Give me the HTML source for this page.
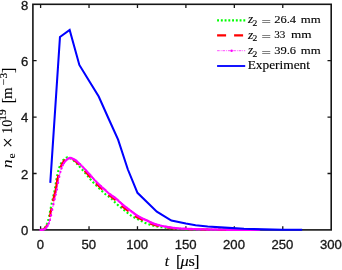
<!DOCTYPE html>
<html><head><meta charset="utf-8"><title>plot</title>
<style>html,body{margin:0;padding:0;background:#fff;overflow:hidden}svg{display:block;filter:blur(0.3px)}</style></head>
<body>
<svg width="342" height="270" viewBox="0 0 342 270">
<rect width="342" height="270" fill="#fff"/>
<rect x="32.9" y="4.3" width="298.3" height="225.6" fill="none" stroke="#161616" stroke-width="1.6"/>
<path d="M40.60,229.9 v-3.7 M40.60,4.3 v3.7 M89.03,229.9 v-3.7 M89.03,4.3 v3.7 M137.47,229.9 v-3.7 M137.47,4.3 v3.7 M185.90,229.9 v-3.7 M185.90,4.3 v3.7 M234.33,229.9 v-3.7 M234.33,4.3 v3.7 M282.77,229.9 v-3.7 M282.77,4.3 v3.7 M32.9,173.50 h3.7 M331.2,173.50 h-3.7 M32.9,117.10 h3.7 M331.2,117.10 h-3.7 M32.9,60.70 h3.7 M331.2,60.70 h-3.7" stroke="#161616" stroke-width="1.3" fill="none"/>
<clipPath id="c"><rect x="32.9" y="4.3" width="298.3" height="226.9"/></clipPath>
<g clip-path="url(#c)" fill="none" stroke-linejoin="round">
<path d="M40.60,229.85 L41.26,229.79 L41.91,229.66 L42.57,229.41 L43.22,229.09 L43.88,228.63 L44.53,227.96 L45.19,227.10 L45.84,226.07 L46.50,224.91 L47.15,223.36 L47.81,221.35 L48.47,219.04 L49.12,216.23 L49.78,212.89 L50.43,209.62 L51.09,206.36 L51.74,203.17 L52.40,200.20 L53.05,197.38 L53.71,194.55 L54.37,191.55 L55.02,188.18 L55.68,184.21 L56.33,180.19 L56.99,176.70 L57.64,173.57 L58.30,170.92 L58.95,168.68 L59.61,166.68 L60.26,164.97 L60.92,163.61 L61.58,162.44 L62.23,161.40 L62.89,160.51 L63.54,159.78 L64.20,159.20 L64.85,158.67 L65.51,158.18 L66.16,157.78 L66.82,157.51 L67.48,157.41 L68.13,157.48 L68.79,157.66 L69.44,157.91 L70.10,158.22 L70.75,158.55 L71.41,158.89 L72.06,159.29 L72.72,159.77 L73.37,160.32 L74.03,160.92 L74.69,161.55 L75.34,162.20 L76.00,162.86 L76.65,163.50 L77.31,164.16 L77.96,164.86 L78.62,165.57 L79.27,166.31 L79.93,167.05 L80.58,167.79 L81.24,168.53 L81.90,169.27 L82.55,170.01 L83.21,170.76 L83.86,171.51 L84.52,172.27 L85.17,173.03 L85.83,173.80 L86.48,174.58 L87.14,175.38 L87.80,176.18 L88.45,176.98 L89.11,177.77 L89.76,178.55 L90.42,179.31 L91.07,180.05 L91.73,180.77 L92.38,181.48 L93.04,182.17 L93.69,182.86 L94.35,183.54 L95.01,184.22 L95.66,184.88 L96.32,185.54 L96.97,186.20 L97.63,186.84 L98.28,187.49 L98.94,188.12 L99.59,188.76 L100.25,189.39 L100.90,190.01 L101.56,190.64 L102.22,191.26 L102.87,191.88 L103.53,192.50 L104.18,193.10 L104.84,193.68 L105.49,194.24 L106.15,194.77 L106.80,195.26 L107.46,195.73 L108.12,196.18 L108.77,196.63 L109.43,197.09 L110.08,197.58 L110.74,198.11 L111.39,198.68 L112.05,199.30 L112.70,199.95 L113.36,200.62 L114.01,201.30 L114.67,201.98 L115.33,202.66 L115.98,203.31 L116.64,203.94 L117.29,204.52 L117.95,205.10 L118.60,205.65 L119.26,206.20 L119.91,206.74 L120.57,207.27 L121.23,207.79 L121.88,208.31 L122.54,208.83 L123.19,209.35 L123.85,209.87 L124.50,210.39 L125.16,210.93 L125.81,211.47 L126.47,212.02 L127.12,212.56 L127.78,213.10 L128.44,213.63 L129.09,214.15 L129.75,214.64 L130.40,215.12 L131.06,215.56 L131.71,215.98 L132.37,216.37 L133.02,216.76 L133.68,217.12 L134.33,217.48 L134.99,217.83 L135.65,218.17 L136.30,218.50 L136.96,218.82 L137.61,219.15 L138.27,219.47 L138.92,219.80 L139.58,220.12 L140.23,220.46 L140.89,220.79 L141.55,221.13 L142.20,221.46 L142.86,221.79 L143.51,222.12 L144.17,222.44 L144.82,222.75 L145.48,223.04 L146.13,223.32 L146.79,223.59 L147.44,223.83 L148.10,224.07 L148.76,224.29 L149.41,224.51 L150.07,224.72 L150.72,224.93 L151.38,225.12 L152.03,225.31 L152.69,225.49 L153.34,225.66 L154.00,225.82 L154.66,225.97 L155.31,226.12 L155.97,226.26 L156.62,226.40 L157.28,226.53 L157.93,226.65 L158.59,226.77 L159.24,226.89 L159.90,227.00 L160.55,227.11 L161.21,227.22 L161.87,227.32 L162.52,227.42 L163.18,227.52 L163.83,227.63 L164.49,227.73 L165.14,227.83 L165.80,227.92 L166.45,228.01 L167.11,228.10 L167.76,228.17 L168.42,228.24 L169.08,228.31 L169.73,228.36 L170.39,228.41 L171.04,228.45 L171.70,228.50 L172.35,228.54 L173.01,228.58 L173.66,228.62 L174.32,228.66 L174.98,228.70 L175.63,228.73 L176.29,228.76 L176.94,228.80 L177.60,228.83 L178.25,228.86 L178.91,228.88 L179.56,228.91 L180.22,228.94 L180.87,228.96 L181.53,228.99 L182.19,229.01 L182.84,229.04 L183.50,229.06 L184.15,229.08 L184.81,229.11 L185.46,229.13 L186.12,229.15 L186.77,229.17 L187.43,229.19 L188.08,229.21 L188.74,229.23 L189.40,229.25 L190.05,229.27 L190.71,229.29 L191.36,229.31 L192.02,229.32 L192.67,229.34 L193.33,229.35 L193.98,229.37 L194.64,229.38 L195.30,229.40 L195.95,229.41 L196.61,229.42 L197.26,229.44 L197.92,229.45 L198.57,229.46 L199.23,229.47 L199.88,229.48 L200.54,229.49 L201.19,229.50 L201.85,229.51 L202.51,229.52 L203.16,229.53 L203.82,229.54 L204.47,229.55 L205.13,229.56 L205.78,229.57 L206.44,229.57 L207.09,229.58 L207.75,229.59 L208.41,229.60 L209.06,229.61 L209.72,229.62 L210.37,229.62 L211.03,229.63 L211.68,229.64 L212.34,229.65 L212.99,229.65 L213.65,229.66 L214.30,229.67 L214.96,229.67 L215.62,229.68 L216.27,229.68 L216.93,229.69 L217.58,229.69 L218.24,229.70 L218.89,229.70 L219.55,229.71 L220.20,229.71 L220.86,229.72 L221.51,229.72 L222.17,229.72 L222.83,229.73 L223.48,229.73 L224.14,229.73 L224.79,229.74 L225.45,229.74 L226.10,229.74 L226.76,229.75 L227.41,229.75 L228.07,229.75 L228.73,229.76 L229.38,229.76 L230.04,229.76 L230.69,229.76 L231.35,229.77 L232.00,229.77 L232.66,229.77 L233.31,229.78 L233.97,229.78 L234.62,229.78 L235.28,229.78 L235.94,229.79 L236.59,229.79 L237.25,229.79 L237.90,229.79 L238.56,229.80 L239.21,229.80 L239.87,229.80 L240.52,229.80 L241.18,229.81 L241.84,229.81 L242.49,229.81 L243.15,229.81 L243.80,229.82 L244.46,229.82 L245.11,229.82 L245.77,229.82 L246.42,229.83 L247.08,229.83 L247.73,229.83 L248.39,229.83 L249.05,229.83 L249.70,229.84 L250.36,229.84 L251.01,229.84 L251.67,229.84 L252.32,229.84 L252.98,229.85 L253.63,229.85 L254.29,229.85 L254.94,229.85 L255.60,229.85" stroke="#00ff00" stroke-width="2.1" stroke-dasharray="2 2.15"/>
<path d="M40.60,229.88 L41.26,229.84 L41.91,229.78 L42.57,229.63 L43.22,229.38 L43.88,229.06 L44.53,228.60 L45.19,227.94 L45.84,227.11 L46.50,226.12 L47.15,225.00 L47.81,223.53 L48.47,221.63 L49.12,219.43 L49.78,216.82 L50.43,213.63 L51.09,210.43 L51.74,207.29 L52.40,204.17 L53.05,201.24 L53.71,198.48 L54.37,195.77 L55.02,192.95 L55.68,189.87 L56.33,186.27 L56.99,182.31 L57.64,178.65 L58.30,175.48 L58.95,172.62 L59.61,170.28 L60.26,168.20 L60.92,166.36 L61.58,164.82 L62.23,163.58 L62.89,162.49 L63.54,161.52 L64.20,160.69 L64.85,160.01 L65.51,159.47 L66.16,158.96 L66.82,158.49 L67.48,158.11 L68.13,157.86 L68.79,157.77 L69.44,157.84 L70.10,158.01 L70.75,158.25 L71.41,158.54 L72.06,158.86 L72.72,159.19 L73.37,159.56 L74.03,160.01 L74.69,160.52 L75.34,161.09 L76.00,161.69 L76.65,162.32 L77.31,162.96 L77.96,163.58 L78.62,164.21 L79.27,164.87 L79.93,165.55 L80.58,166.25 L81.24,166.97 L81.90,167.69 L82.55,168.40 L83.21,169.11 L83.86,169.83 L84.52,170.55 L85.17,171.27 L85.83,172.00 L86.48,172.74 L87.14,173.47 L87.80,174.22 L88.45,174.98 L89.11,175.75 L89.76,176.52 L90.42,177.30 L91.07,178.06 L91.73,178.82 L92.38,179.55 L93.04,180.27 L93.69,180.96 L94.35,181.65 L95.01,182.32 L95.66,182.99 L96.32,183.65 L96.97,184.30 L97.63,184.95 L98.28,185.59 L98.94,186.22 L99.59,186.85 L100.25,187.47 L100.90,188.09 L101.56,188.70 L102.22,189.31 L102.87,189.92 L103.53,190.52 L104.18,191.13 L104.84,191.73 L105.49,192.33 L106.15,192.91 L106.80,193.49 L107.46,194.05 L108.12,194.58 L108.77,195.08 L109.43,195.55 L110.08,196.00 L110.74,196.43 L111.39,196.87 L112.05,197.32 L112.70,197.79 L113.36,198.30 L114.01,198.86 L114.67,199.46 L115.33,200.09 L115.98,200.74 L116.64,201.40 L117.29,202.06 L117.95,202.71 L118.60,203.35 L119.26,203.95 L119.91,204.53 L120.57,205.08 L121.23,205.63 L121.88,206.16 L122.54,206.68 L123.19,207.20 L123.85,207.71 L124.50,208.21 L125.16,208.71 L125.81,209.21 L126.47,209.71 L127.12,210.22 L127.78,210.73 L128.44,211.25 L129.09,211.77 L129.75,212.30 L130.40,212.83 L131.06,213.35 L131.71,213.86 L132.37,214.35 L133.02,214.83 L133.68,215.28 L134.33,215.70 L134.99,216.10 L135.65,216.48 L136.30,216.85 L136.96,217.21 L137.61,217.55 L138.27,217.88 L138.92,218.21 L139.58,218.53 L140.23,218.85 L140.89,219.16 L141.55,219.48 L142.20,219.79 L142.86,220.11 L143.51,220.42 L144.17,220.75 L144.82,221.07 L145.48,221.40 L146.13,221.72 L146.79,222.04 L147.44,222.35 L148.10,222.65 L148.76,222.94 L149.41,223.22 L150.07,223.48 L150.72,223.73 L151.38,223.96 L152.03,224.19 L152.69,224.40 L153.34,224.61 L154.00,224.81 L154.66,225.01 L155.31,225.19 L155.97,225.37 L156.62,225.54 L157.28,225.71 L157.93,225.86 L158.59,226.01 L159.24,226.15 L159.90,226.29 L160.55,226.42 L161.21,226.54 L161.87,226.66 L162.52,226.78 L163.18,226.89 L163.83,227.00 L164.49,227.11 L165.14,227.21 L165.80,227.31 L166.45,227.41 L167.11,227.51 L167.76,227.61 L168.42,227.71 L169.08,227.80 L169.73,227.90 L170.39,227.98 L171.04,228.07 L171.70,228.15 L172.35,228.22 L173.01,228.28 L173.66,228.34 L174.32,228.39 L174.98,228.43 L175.63,228.48 L176.29,228.52 L176.94,228.56 L177.60,228.60 L178.25,228.64 L178.91,228.68 L179.56,228.71 L180.22,228.74 L180.87,228.77 L181.53,228.81 L182.19,228.83 L182.84,228.86 L183.50,228.89 L184.15,228.92 L184.81,228.94 L185.46,228.97 L186.12,228.99 L186.77,229.01 L187.43,229.04 L188.08,229.06 L188.74,229.08 L189.40,229.10 L190.05,229.13 L190.71,229.15 L191.36,229.17 L192.02,229.19 L192.67,229.21 L193.33,229.23 L193.98,229.25 L194.64,229.26 L195.30,229.28 L195.95,229.30 L196.61,229.32 L197.26,229.33 L197.92,229.35 L198.57,229.36 L199.23,229.38 L199.88,229.39 L200.54,229.40 L201.19,229.42 L201.85,229.43 L202.51,229.44 L203.16,229.45 L203.82,229.46 L204.47,229.47 L205.13,229.48 L205.78,229.49 L206.44,229.50 L207.09,229.51 L207.75,229.52 L208.41,229.53 L209.06,229.54 L209.72,229.55 L210.37,229.56 L211.03,229.57 L211.68,229.57 L212.34,229.58 L212.99,229.59 L213.65,229.60 L214.30,229.61 L214.96,229.61 L215.62,229.62 L216.27,229.63 L216.93,229.64 L217.58,229.64 L218.24,229.65 L218.89,229.66 L219.55,229.66 L220.20,229.67 L220.86,229.68 L221.51,229.68 L222.17,229.69 L222.83,229.69 L223.48,229.70 L224.14,229.70 L224.79,229.71 L225.45,229.71 L226.10,229.72 L226.76,229.72 L227.41,229.72 L228.07,229.73 L228.73,229.73 L229.38,229.73 L230.04,229.74 L230.69,229.74 L231.35,229.74 L232.00,229.74 L232.66,229.75 L233.31,229.75 L233.97,229.75 L234.62,229.76 L235.28,229.76 L235.94,229.76 L236.59,229.76 L237.25,229.77 L237.90,229.77 L238.56,229.77 L239.21,229.77 L239.87,229.78 L240.52,229.78 L241.18,229.78 L241.84,229.79 L242.49,229.79 L243.15,229.79 L243.80,229.79 L244.46,229.80 L245.11,229.80 L245.77,229.80 L246.42,229.80 L247.08,229.81 L247.73,229.81 L248.39,229.81 L249.05,229.81 L249.70,229.81 L250.36,229.82 L251.01,229.82 L251.67,229.82 L252.32,229.82 L252.98,229.83 L253.63,229.83 L254.29,229.83 L254.94,229.83 L255.60,229.83" stroke="#ff0000" stroke-width="2.1" stroke-dasharray="9 8"/>
<path d="M53.05,201.24 L53.71,198.48 L54.37,195.77 L55.02,192.95 L55.68,189.87 L56.33,186.27 L56.99,182.31 L57.64,178.65" stroke="#ff0000" stroke-width="2.1"/>
<path d="M40.60,229.90 L41.26,229.88 L41.91,229.84 L42.57,229.78 L43.22,229.65 L43.88,229.42 L44.53,229.12 L45.19,228.72 L45.84,228.12 L46.50,227.34 L47.15,226.42 L47.81,225.36 L48.47,224.09 L49.12,222.36 L49.78,220.31 L50.43,217.99 L51.09,215.07 L51.74,211.89 L52.40,208.85 L53.05,205.78 L53.71,202.82 L54.37,200.06 L55.02,197.42 L55.68,194.76 L56.33,191.93 L56.99,188.79 L57.64,185.10 L58.30,181.28 L58.95,177.89 L59.61,174.86 L60.26,172.20 L60.92,170.01 L61.58,168.02 L62.23,166.28 L62.89,164.83 L63.54,163.65 L64.20,162.60 L64.85,161.67 L65.51,160.87 L66.16,160.21 L66.82,159.69 L67.48,159.19 L68.13,158.73 L68.79,158.35 L69.44,158.09 L70.10,157.99 L70.75,158.04 L71.41,158.18 L72.06,158.41 L72.72,158.68 L73.37,158.99 L74.03,159.31 L74.69,159.65 L75.34,160.06 L76.00,160.54 L76.65,161.08 L77.31,161.65 L77.96,162.26 L78.62,162.87 L79.27,163.49 L79.93,164.09 L80.58,164.72 L81.24,165.37 L81.90,166.04 L82.55,166.73 L83.21,167.43 L83.86,168.13 L84.52,168.82 L85.17,169.51 L85.83,170.21 L86.48,170.91 L87.14,171.62 L87.80,172.33 L88.45,173.04 L89.11,173.76 L89.76,174.49 L90.42,175.23 L91.07,175.98 L91.73,176.73 L92.38,177.48 L93.04,178.23 L93.69,178.96 L94.35,179.68 L95.01,180.37 L95.66,181.05 L96.32,181.72 L96.97,182.38 L97.63,183.03 L98.28,183.67 L98.94,184.31 L99.59,184.93 L100.25,185.56 L100.90,186.18 L101.56,186.79 L102.22,187.39 L102.87,188.00 L103.53,188.60 L104.18,189.19 L104.84,189.78 L105.49,190.37 L106.15,190.96 L106.80,191.54 L107.46,192.13 L108.12,192.71 L108.77,193.27 L109.43,193.83 L110.08,194.36 L110.74,194.87 L111.39,195.34 L112.05,195.79 L112.70,196.22 L113.36,196.64 L114.01,197.07 L114.67,197.51 L115.33,197.98 L115.98,198.49 L116.64,199.03 L117.29,199.62 L117.95,200.23 L118.60,200.86 L119.26,201.51 L119.91,202.15 L120.57,202.78 L121.23,203.40 L121.88,204.00 L122.54,204.56 L123.19,205.10 L123.85,205.63 L124.50,206.15 L125.16,206.66 L125.81,207.16 L126.47,207.66 L127.12,208.15 L127.78,208.64 L128.44,209.12 L129.09,209.61 L129.75,210.10 L130.40,210.59 L131.06,211.10 L131.71,211.61 L132.37,212.12 L133.02,212.63 L133.68,213.14 L134.33,213.64 L134.99,214.13 L135.65,214.60 L136.30,215.06 L136.96,215.48 L137.61,215.89 L138.27,216.27 L138.92,216.64 L139.58,216.99 L140.23,217.33 L140.89,217.67 L141.55,217.99 L142.20,218.31 L142.86,218.62 L143.51,218.93 L144.17,219.23 L144.82,219.54 L145.48,219.84 L146.13,220.15 L146.79,220.46 L147.44,220.77 L148.10,221.09 L148.76,221.40 L149.41,221.72 L150.07,222.03 L150.72,222.33 L151.38,222.63 L152.03,222.91 L152.69,223.18 L153.34,223.44 L154.00,223.69 L154.66,223.92 L155.31,224.14 L155.97,224.35 L156.62,224.55 L157.28,224.75 L157.93,224.94 L158.59,225.13 L159.24,225.31 L159.90,225.48 L160.55,225.64 L161.21,225.79 L161.87,225.94 L162.52,226.08 L163.18,226.22 L163.83,226.35 L164.49,226.47 L165.14,226.59 L165.80,226.71 L166.45,226.82 L167.11,226.93 L167.76,227.04 L168.42,227.14 L169.08,227.24 L169.73,227.33 L170.39,227.43 L171.04,227.53 L171.70,227.62 L172.35,227.72 L173.01,227.81 L173.66,227.90 L174.32,227.99 L174.98,228.07 L175.63,228.15 L176.29,228.22 L176.94,228.28 L177.60,228.34 L178.25,228.38 L178.91,228.43 L179.56,228.47 L180.22,228.52 L180.87,228.56 L181.53,228.59 L182.19,228.63 L182.84,228.67 L183.50,228.70 L184.15,228.73 L184.81,228.77 L185.46,228.80 L186.12,228.82 L186.77,228.85 L187.43,228.88 L188.08,228.91 L188.74,228.93 L189.40,228.96 L190.05,228.98 L190.71,229.00 L191.36,229.03 L192.02,229.05 L192.67,229.07 L193.33,229.09 L193.98,229.11 L194.64,229.13 L195.30,229.15 L195.95,229.17 L196.61,229.19 L197.26,229.21 L197.92,229.23 L198.57,229.25 L199.23,229.27 L199.88,229.28 L200.54,229.30 L201.19,229.32 L201.85,229.33 L202.51,229.35 L203.16,229.36 L203.82,229.38 L204.47,229.39 L205.13,229.40 L205.78,229.42 L206.44,229.43 L207.09,229.44 L207.75,229.45 L208.41,229.46 L209.06,229.47 L209.72,229.48 L210.37,229.49 L211.03,229.50 L211.68,229.51 L212.34,229.52 L212.99,229.53 L213.65,229.54 L214.30,229.54 L214.96,229.55 L215.62,229.56 L216.27,229.57 L216.93,229.58 L217.58,229.59 L218.24,229.59 L218.89,229.60 L219.55,229.61 L220.20,229.62 L220.86,229.63 L221.51,229.63 L222.17,229.64 L222.83,229.65 L223.48,229.65 L224.14,229.66 L224.79,229.66 L225.45,229.67 L226.10,229.68 L226.76,229.68 L227.41,229.69 L228.07,229.69 L228.73,229.70 L229.38,229.70 L230.04,229.71 L230.69,229.71 L231.35,229.72 L232.00,229.72 L232.66,229.72 L233.31,229.73 L233.97,229.73 L234.62,229.73 L235.28,229.73 L235.94,229.74 L236.59,229.74 L237.25,229.74 L237.90,229.75 L238.56,229.75 L239.21,229.75 L239.87,229.75 L240.52,229.76 L241.18,229.76 L241.84,229.76 L242.49,229.77 L243.15,229.77 L243.80,229.77 L244.46,229.77 L245.11,229.78 L245.77,229.78 L246.42,229.78 L247.08,229.78 L247.73,229.79 L248.39,229.79 L249.05,229.79 L249.70,229.79 L250.36,229.80 L251.01,229.80 L251.67,229.80 L252.32,229.80 L252.98,229.81 L253.63,229.81 L254.29,229.81 L254.94,229.81 L255.60,229.81 L256.26,229.82 L256.91,229.82 L257.57,229.82 L258.22,229.82 L258.88,229.83" stroke="#ff00ff" stroke-width="0.9" stroke-dasharray="3 1 1 1"/>
<path d="M40.60,229.90h0 M41.76,229.85h0 M42.92,229.73h0 M44.09,229.33h0 M45.25,228.67h0 M46.41,227.45h0 M47.57,225.76h0 M48.74,223.42h0 M49.90,219.90h0 M51.06,215.19h0 M52.22,209.66h0 M53.39,204.26h0 M54.55,199.32h0 M55.71,194.61h0 M56.87,189.38h0 M58.04,182.78h0 M59.20,176.73h0 M60.36,171.86h0 M61.52,168.17h0 M62.69,165.24h0 M63.85,163.15h0 M65.01,161.46h0 M66.17,160.20h0 M67.34,159.29h0 M68.50,158.51h0 M69.66,158.04h0 M70.82,158.05h0 M71.98,158.38h0 M73.15,158.88h0 M74.31,159.45h0 M75.47,160.15h0 M76.63,161.06h0 M77.80,162.10h0 M78.96,163.19h0 M80.12,164.27h0 M81.28,165.41h0 M82.45,166.62h0 M83.61,167.86h0 M84.77,169.09h0 M85.93,170.32h0 M87.10,171.57h0 M88.26,172.83h0 M89.42,174.11h0 M90.58,175.42h0 M91.75,176.75h0 M92.91,178.08h0 M94.07,179.38h0 M95.23,180.61h0 M96.40,181.80h0 M97.56,182.96h0 M98.72,184.09h0 M99.88,185.21h0 M101.04,186.31h0 M102.21,187.39h0 M103.37,188.45h0 M104.53,189.51h0 M105.69,190.55h0 M106.86,191.59h0 M108.02,192.62h0 M109.18,193.62h0 M110.34,194.57h0 M111.51,195.42h0 M112.67,196.20h0 M113.83,196.95h0 M114.99,197.74h0 M116.16,198.63h0 M117.32,199.64h0 M118.48,200.75h0 M119.64,201.88h0 M120.81,203.01h0 M121.97,204.07h0 M123.13,205.05h0 M124.29,205.98h0 M125.46,206.89h0 M126.62,207.77h0 M127.78,208.64h0 M128.94,209.50h0 M130.10,210.37h0 M131.27,211.26h0 M132.43,212.17h0 M133.59,213.07h0 M134.75,213.96h0 M135.92,214.79h0 M137.08,215.56h0 M138.24,216.25h0 M139.40,216.90h0 M140.57,217.50h0 M141.73,218.08h0 M142.89,218.63h0 M144.05,219.18h0 M145.22,219.72h0 M146.38,220.26h0 M147.54,220.82h0 M148.70,221.38h0 M149.87,221.93h0 M151.03,222.47h0 M152.19,222.98h0 M153.35,223.45h0 M154.52,223.87h0 M155.68,224.26h0 M156.84,224.62h0 M158.00,224.96h0 M159.16,225.29h0 M160.33,225.58h0 M161.49,225.86h0 M162.65,226.11h0 M163.81,226.35h0 M164.98,226.56h0 M166.14,226.77h0 M167.30,226.96h0 M168.46,227.14h0 M169.63,227.32h0 M170.79,227.49h0 M171.95,227.66h0 M173.11,227.83h0 M174.28,227.98h0 M175.44,228.13h0 M176.60,228.25h0 M177.76,228.35h0 M178.93,228.43h0 M180.09,228.51h0 M181.25,228.58h0 M182.41,228.64h0 M183.58,228.71h0 M184.74,228.76h0 M185.90,228.82h0 M187.06,228.86h0 M188.22,228.91h0 M189.39,228.96h0 M190.55,229.00h0 M191.71,229.04h0 M192.87,229.08h0 M194.04,229.11h0 M195.20,229.15h0 M196.36,229.19h0 M197.52,229.22h0 M198.69,229.25h0 M199.85,229.28h0 M201.01,229.31h0 M202.17,229.34h0 M203.34,229.37h0 M204.50,229.39h0 M205.66,229.41h0 M206.82,229.43h0 M207.99,229.45h0 M209.15,229.47h0 M210.31,229.49h0 M211.47,229.51h0 M212.64,229.52h0 M213.80,229.54h0 M214.96,229.55h0 M216.12,229.57h0 M217.28,229.58h0 M218.45,229.60h0 M219.61,229.61h0 M220.77,229.62h0 M221.93,229.64h0 M223.10,229.65h0 M224.26,229.66h0 M225.42,229.67h0 M226.58,229.68h0 M227.75,229.69h0 M228.91,229.70h0 M230.07,229.71h0 M231.23,229.71h0 M232.40,229.72h0 M233.56,229.73h0 M234.72,229.73h0 M235.88,229.74h0 M237.05,229.74h0 M238.21,229.75h0 M239.37,229.75h0 M240.53,229.76h0 M241.70,229.76h0 M242.86,229.77h0 M244.02,229.77h0 M245.18,229.78h0 M246.34,229.78h0 M247.51,229.79h0 M248.67,229.79h0 M249.83,229.79h0 M250.99,229.80h0 M252.16,229.80h0 M253.32,229.81h0 M254.48,229.81h0 M255.64,229.81h0 M256.81,229.82h0 M257.97,229.82h0 M259.13,229.83h0" stroke="#ff00ff" stroke-width="2.4" stroke-linecap="round"/>
<path d="M50.29,182.81 L59.97,37.01 L69.66,29.96 L79.35,64.93 L89.03,80.72 L98.72,96.51 L108.41,118.23 L118.09,139.66 L127.78,169.27 L137.47,192.82 L147.15,202.26 L156.84,211.71 L171.37,220.59 L185.90,223.56 L195.59,225.25 L207.69,226.57 L224.65,227.64 L244.02,228.77 L263.39,229.39 L282.77,229.67 L302.14,229.79" stroke="#0000ff" stroke-width="2.05" stroke-linejoin="miter"/>
</g>
<g font-family="'Liberation Sans', Arial, Helvetica, sans-serif" fill="#161616" stroke="#161616" stroke-width="0.3">
<text id="t1" x="36.65" y="249.2" font-size="12.4" textLength="7.3" lengthAdjust="spacingAndGlyphs">0</text>
<text id="t2" x="81.43" y="249.2" font-size="12.4" textLength="14.6" lengthAdjust="spacingAndGlyphs">50</text>
<text id="t3" x="126.22" y="249.2" font-size="12.4" textLength="21.9" lengthAdjust="spacingAndGlyphs">100</text>
<text id="t4" x="174.65" y="249.2" font-size="12.4" textLength="21.9" lengthAdjust="spacingAndGlyphs">150</text>
<text id="t5" x="223.08" y="249.2" font-size="12.4" textLength="21.9" lengthAdjust="spacingAndGlyphs">200</text>
<text id="t6" x="271.52" y="249.2" font-size="12.4" textLength="21.9" lengthAdjust="spacingAndGlyphs">250</text>
<text id="t7" x="319.95" y="249.2" font-size="12.4" textLength="21.9" lengthAdjust="spacingAndGlyphs">300</text>
<text id="t8" x="21.0" y="235.1" font-size="12.4" textLength="7.3" lengthAdjust="spacingAndGlyphs">0</text>
<text id="t9" x="21.0" y="178.7" font-size="12.4" textLength="7.3" lengthAdjust="spacingAndGlyphs">2</text>
<text id="t10" x="21.0" y="122.3" font-size="12.4" textLength="7.3" lengthAdjust="spacingAndGlyphs">4</text>
<text id="t11" x="21.0" y="65.9" font-size="12.4" textLength="7.3" lengthAdjust="spacingAndGlyphs">6</text>
<text id="t12" x="21.0" y="9.5" font-size="12.4" textLength="7.3" lengthAdjust="spacingAndGlyphs">8</text>
</g>
<g font-family="'Liberation Serif', 'Times New Roman', serif" fill="#000" stroke="#000" stroke-width="0.12">
<text id="t13" x="164.8" y="265.6" font-size="15.5" font-style="italic">t</text>
<text id="t14" x="176.0" y="267.0" font-size="16.5">[</text>
<text id="t15" x="180.6" y="265.7" font-size="15" textLength="8.2" lengthAdjust="spacingAndGlyphs" font-style="italic">μ</text>
<text id="t16" x="188.4" y="265.7" font-size="14" textLength="6.4" lengthAdjust="spacingAndGlyphs">s</text>
<text id="t17" x="193.9" y="267.0" font-size="16.5">]</text>
<g transform="translate(12.4,0) rotate(-90)">
<text stroke="none" id="t18" x="-168.2" y="0" font-size="15.2" textLength="8.8" lengthAdjust="spacingAndGlyphs" font-style="italic">n</text>
<text id="t19" x="-158.6" y="3.0" font-size="9.8" textLength="5.2" lengthAdjust="spacingAndGlyphs">e</text>
<text id="t20" x="-148.1" y="1.7" font-size="19">×</text>
<text id="t21" x="-133.7" y="0" font-size="14">10</text>
<text id="t22" x="-120.7" y="-6.3" font-size="9.8" textLength="11.2" lengthAdjust="spacingAndGlyphs">19</text>
<text id="t23" x="-103.4" y="1.2" font-size="16.5">[</text>
<text id="t24" x="-98.9" y="0" font-size="14" textLength="11.6" lengthAdjust="spacingAndGlyphs">m</text>
<text id="t25" x="-85.2" y="-5.6" font-size="9.8" textLength="6.6" lengthAdjust="spacingAndGlyphs">−</text>
<text id="t26" x="-78.4" y="-5.6" font-size="9.8" textLength="5.6" lengthAdjust="spacingAndGlyphs">3</text>
<text id="t27" x="-73.1" y="1.2" font-size="16.5">]</text>
</g>
</g>
<g fill="none">
<path d="M217.1,20.4 H245.6" stroke="#00ff00" stroke-width="2.1" stroke-dasharray="1.9 1.85"/>
<path d="M217.1,35.4 H245.2" stroke="#ff0000" stroke-width="2.1" stroke-dasharray="9 8"/>
<path d="M217.1,50.7 H245.2" stroke="#ff00ff" stroke-width="0.7" stroke-dasharray="2.6 1 0.8 1"/>
<circle cx="231.6" cy="50.7" r="1.25" fill="#ff00ff"/>
<path d="M217.1,66.0 H245.2" stroke="#0000ff" stroke-width="1.85"/>
</g>
<g font-family="'Liberation Serif', 'Times New Roman', serif" fill="#000" stroke="#000" stroke-width="0.12">
<text id="t28" x="247.9" y="23.0" font-size="11.6" textLength="5.2" lengthAdjust="spacingAndGlyphs" font-style="italic">z</text>
<text id="t29" x="252.6" y="25.6" font-size="8.2" textLength="4.8" lengthAdjust="spacingAndGlyphs">2</text>
<text id="t30" x="261.4" y="24.8" font-size="11.1" textLength="9.4" lengthAdjust="spacingAndGlyphs">=</text>
<text id="t31" x="274.2" y="22.7" font-size="11.1" textLength="21.9" lengthAdjust="spacingAndGlyphs">26.4</text>
<text id="t32" x="300.8" y="22.7" font-size="11.1" textLength="19.9" lengthAdjust="spacingAndGlyphs">mm</text>
<text id="t33" x="247.9" y="38.5" font-size="11.6" textLength="5.2" lengthAdjust="spacingAndGlyphs" font-style="italic">z</text>
<text id="t34" x="252.6" y="41.1" font-size="8.2" textLength="4.8" lengthAdjust="spacingAndGlyphs">2</text>
<text id="t35" x="261.4" y="40.3" font-size="11.1" textLength="9.4" lengthAdjust="spacingAndGlyphs">=</text>
<text id="t36" x="274.2" y="38.2" font-size="11.1" textLength="11.2" lengthAdjust="spacingAndGlyphs">33</text>
<text id="t37" x="290.9" y="38.2" font-size="11.1" textLength="20.6" lengthAdjust="spacingAndGlyphs">mm</text>
<text id="t38" x="247.9" y="53.9" font-size="11.6" textLength="5.2" lengthAdjust="spacingAndGlyphs" font-style="italic">z</text>
<text id="t39" x="252.6" y="56.5" font-size="8.2" textLength="4.8" lengthAdjust="spacingAndGlyphs">2</text>
<text id="t40" x="261.4" y="55.7" font-size="11.1" textLength="9.4" lengthAdjust="spacingAndGlyphs">=</text>
<text id="t41" x="274.2" y="53.6" font-size="11.1" textLength="21.9" lengthAdjust="spacingAndGlyphs">39.6</text>
<text id="t42" x="300.8" y="53.6" font-size="11.1" textLength="19.9" lengthAdjust="spacingAndGlyphs">mm</text>
<text id="t43" x="247.7" y="68.8" font-size="11.9" textLength="62.3" lengthAdjust="spacingAndGlyphs">Experiment</text>
</g>
</svg>
</body></html>
